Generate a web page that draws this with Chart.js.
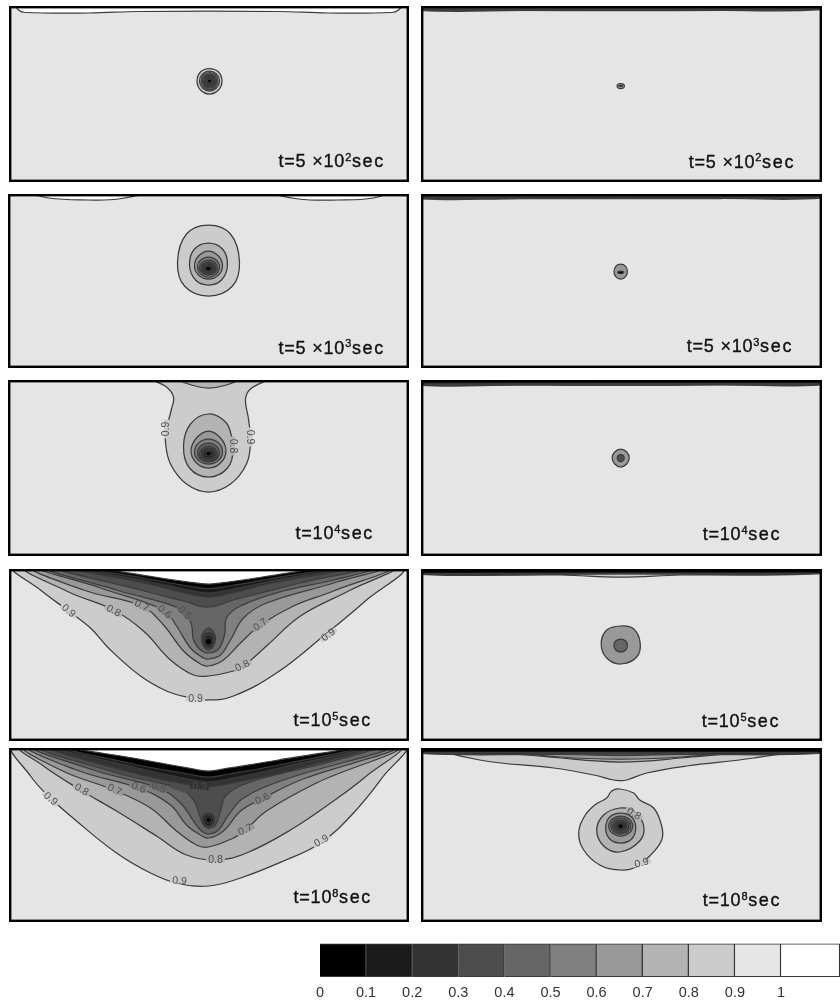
<!DOCTYPE html>
<html>
<head>
<meta charset="utf-8">
<script src="https://cdn.jsdelivr.net/npm/chart.js@4"></script>
<style>
  html, body { margin: 0; padding: 0; background: #fff; }
  #page { position: relative; width: 840px; height: 1002px; overflow: hidden; }
  canvas { position: absolute; filter: blur(0.45px); }
</style>
</head>
<body>
<div id="page"></div>
<script>
//*************DATA: each band is [contour level, [[x offset, depth], ...]] */

const bandsLeft500 = [
  [0.9, [[1,62.5],[10,66],[13.5,75],[10,84],[1,88],[-8,84],[-11.5,75],[-8,66],[1,62.5]]],
  [0.8, [[1,65],[8,68],[11,75],[8,82],[1,85],[-6,82],[-9,75],[-6,68],[1,65]]],
  [0.7, [[1,66.5],[9.5,75],[1,83.5],[-7.5,75],[1,66.5]]],
  [0.6, [[1,68],[8,75],[1,82],[-6,75],[1,68]]],
  [0.5, [[1,69],[7,75],[1,81],[-5,75],[1,69]]],
  [0.4, [[1,70],[6,75],[1,80],[-4,75],[1,70]]],
  [0.3, [[1,71],[5,75],[1,79],[-3,75],[1,71]]],
  [0.2, [[1,72],[4,75],[1,78],[-2,75],[1,72]]],
  [0.1, [[1,73],[3,75],[1,77],[-1,75],[1,73]]],
  [1, [[-192,-2],[-190,4],[-183,6.5],[-120,7],[-70,5.5],[0,5],[70,5.5],[120,7],[183,6.5],[190,4],[193,-2],[-192,-2]]]
];
const bandsLeft5000 = [
  [0.9, [[0,31],[22,40],[31,68],[24,92],[0,102],[-24,92],[-31,68],[-22,40],[0,31]]],
  [0.8, [[0,49],[14,55],[19,71],[13,86],[0,91],[-13,86],[-19,71],[-14,55],[0,49]]],
  [0.7, [[0,57],[10,62],[14,72],[10,81],[0,85],[-10,81],[-14,72],[-10,62],[0,57]]],
  [0.6, [[0,63],[11,73],[0,83],[-11,73],[0,63]]],
  [0.5, [[0,66],[9,73.5],[0,81],[-9,73.5],[0,66]]],
  [0.4, [[0,68],[7.5,74],[0,80],[-7.5,74],[0,68]]],
  [0.3, [[0,69.5],[6,74],[0,79],[-6,74],[0,69.5]]],
  [0.2, [[0,71],[4.5,74.5],[0,78],[-4.5,74.5],[0,71]]],
  [0.1, [[0,72],[3,74.5],[0,77],[-3,74.5],[0,72]]],
  [1, [[-178,-2],[-160,4],[-120,6],[-90,5],[-63,-2],[-178,-2]]],
  [1, [[62,-2],[90,5],[130,6],[165,4],[180,-2],[62,-2]]]
];
const bandsLeft1e4 = [
  [0.9, [[-58,-2],[-42,7],[-35,17],[-37,29],[-42,49],[-43,62],[-38,84],[-22,104],[0,112],[22,104],[38,84],[42,62],[40,39],[37,19],[42,9],[60,-2],[-58,-2]]],
  [0.8, [[-32,-2],[-17,5],[0,8],[18,5],[32,-2],[-32,-2]]],
  [0.8, [[0,34],[17,42],[23,56],[25,68],[19,88],[0,97],[-19,88],[-25,66],[-18,44],[0,34]]],
  [0.7, [[0,51],[12,58],[17.5,71],[12,83],[0,88],[-12,83],[-17.5,71],[-12,58],[0,51]]],
  [0.6, [[0,59],[14,72],[0,84],[-14,72],[0,59]]],
  [0.5, [[0,63],[11,73],[0,82],[-11,73],[0,63]]],
  [0.4, [[0,66],[9,74],[0,81],[-9,74],[0,66]]],
  [0.3, [[0,68],[7,74],[0,79.5],[-7,74],[0,68]]],
  [0.2, [[0,70],[5,74],[0,78],[-5,74],[0,70]]],
  [0.1, [[0,71],[3,74],[0,76],[-3,74],[0,71]]]
];
const bandsLeft1e5 = [
  [0.9, [[-194,-2],[-168,21],[-140,42],[-118,59],[-98,81],[-68,107],[-42,122],[-22,128],[0,131],[25,127],[68,104],[115,67],[158,31],[192,-1],[-194,-2]]],
  [0.8, [[-182,-2],[-142,22],[-95,41],[-65,62],[-38,91],[-15,106],[0,107],[25,102],[35,97],[58,77],[92,47],[142,21],[184,-2],[-182,-2]]],
  [0.7, [[-174,-2],[-125,21],[-67,37],[-45,56],[-25,82],[-8,95],[0,97],[15,91],[32,74],[52,56],[85,37],[125,22],[180,-2],[-174,-2]]],
  [0.6, [[-167,-2],[-108,19],[-45,41],[-32,57],[-18,79],[-5,89],[0,90],[12,86],[22,71],[35,49],[58,34],[125,14],[174,-2],[-167,-2]]],
  [0.5, [[-160,-2],[-92,21],[-25,41],[-17,56],[-15,71],[-8,81],[0,84],[10,80],[16,66],[18,49],[32,37],[75,22],[125,11],[167,-2],[-160,-2]]],
  [0.4, [[-148,-2],[-68,21],[-25,32],[0,38],[25,31],[92,14],[156,-2],[-148,-2]]],
  [0.4, [[0,59],[5,63],[7,69],[5,77],[0,81],[-5,77],[-7,69],[-5,63],[0,59]]],
  [0.3, [[0,63],[6,71],[0,79],[-6,71],[0,63]]],
  [0.2, [[0,66],[5,72],[0,78],[-5,72],[0,66]]],
  [0.1, [[0,69],[3.5,72.5],[0,76],[-3.5,72.5],[0,69]]],
  [0.3, [[-136,-2],[-60,15],[-20,25],[0,28],[20,25],[60,15],[140,-2],[-136,-2]]],
  [0.2, [[-128,-2],[-60,12.5],[-20,21],[0,24],[20,21],[60,12.5],[132,-2],[-128,-2]]],
  [0.1, [[-120,-2],[-60,10],[-20,17],[0,19.5],[20,17],[60,10],[124,-2],[-120,-2]]],
  [1, [[-108,-2],[-60,7],[-20,13],[0,15],[20,13],[60,7],[108,-2],[-108,-2]]]
];
const bandsLeft1e8 = [
  [0.9, [[-194,-2],[-178,28],[-158,50],[-132,73],[-92,105],[-58,125],[-32,135],[0,138],[32,130],[75,113],[112,95],[145,65],[175,28],[195,-2],[-194,-2]]],
  [0.8, [[-188,-2],[-165,18],[-128,42],[-92,63],[-52,88],[-22,107],[8,112],[38,105],[82,82],[125,53],[158,28],[190,-2],[-188,-2]]],
  [0.7, [[-183,-2],[-148,22],[-95,42],[-58,60],[-32,83],[-12,97],[0,99],[25,90],[37,82],[58,63],[108,35],[187,-2],[-183,-2]]],
  [0.6, [[-178,-2],[-132,22],[-70,40],[-38,57],[-22,77],[-8,87],[0,90],[15,83],[32,63],[53,51],[92,32],[184,-2],[-178,-2]]],
  [0.5, [[-173,-2],[-115,22],[-50,40],[-28,55],[-15,73],[-7,83],[0,86],[10,82],[20,67],[35,50],[75,32],[177,-2],[-173,-2]]],
  [0.4, [[-166,-2],[-92,25],[-30,40],[-15,52],[-9,67],[-5,77],[0,80],[7,77],[12,63],[18,47],[45,33],[125,13],[167,-2],[-166,-2]]],
  [0.3, [[0,65],[6,71],[0,79],[-6,71],[0,65]]],
  [0.2, [[0,67],[5,72],[0,78],[-5,72],[0,67]]],
  [0.1, [[0,69],[3,72],[0,75],[-3,72],[0,69]]],
  [0.3, [[-156,-2],[-75,25],[-8,39],[0,39],[25,35],[92,20],[157,-2],[-156,-2]]],
  [0.2, [[-150,-2],[-75,19],[-20,31],[0,34],[20,31],[75,19],[153,-2],[-150,-2]]],
  [0.1, [[-144,-2],[-75,16],[-20,26],[0,29],[20,26],[75,16],[149,-2],[-144,-2]]],
  [1, [[-138,-2],[-70,11],[-20,20],[0,23],[20,20],[70,12],[143,-2],[-138,-2]]]
];

const bandsRight500 = [
  [0.9, [[-205,-3],[-205,4],[-100,4.5],[0,4.5],[100,4.5],[205,3.5],[205,-3],[-205,-3]]],
  [0.4, [[-205,-3],[-205,3.5],[0,3.5],[205,3],[205,-3],[-205,-3]]],
  [0.8, [[0,77.5],[3.7,80],[0,82.5],[-3.7,80],[0,77.5]]],
  [0.5, [[0,79.3],[2,80],[0,80.7],[-2,80],[0,79.3]]]
];
const bandsRight5000 = [
  [0.9, [[-205,-3],[-205,4.5],[-100,4.5],[0,4.5],[100,4.5],[205,4],[205,-3],[-205,-3]]],
  [0.3, [[-205,-3],[-205,3.5],[0,3.5],[205,3],[205,-3],[-205,-3]]],
  [0.7, [[0,70],[6.7,77.5],[0,85],[-6.7,77.5],[0,70]]],
  [0.1, [[0,77],[3,78.3],[0,79.6],[-3,78.3],[0,77]]]
];
const bandsRight1e4 = [
  [0.9, [[-205,-3],[-205,5],[-100,5],[0,5.5],[100,5],[205,4.5],[205,-3],[-205,-3]]],
  [0.2, [[-205,-3],[-205,4],[0,4],[205,3.5],[205,-3],[-205,-3]]],
  [0.7, [[0,69],[6,72],[8.5,78],[6,84],[0,87],[-6,84],[-8.5,78],[-6,72],[0,69]]],
  [0.4, [[0,74.5],[3.5,78],[0,81.5],[-3.5,78],[0,74.5]]]
];
const bandsRight1e5 = [
  [0.9, [[-205,-3],[-205,5],[-60,6],[0,8],[60,6],[205,4.5],[205,-3],[-205,-3]]],
  [0.1, [[-205,-3],[-205,4.5],[0,4.8],[205,4],[205,-3],[-205,-3]]],
  [0.7, [[0,57],[13,60],[19.5,74],[16,88],[0,95],[-14,89],[-19.5,75],[-14,61],[0,57]]],
  [0.5, [[0,70],[5,72],[6.7,76.5],[5,81],[0,83],[-5,81],[-6.7,76.5],[-5,72],[0,70]]]
];
const bandsRight1e8 = [
  [0.9, [[-188,-2],[-141,12],[-67,20],[-27,27],[-7,32],[-1,32.5],[6,32],[26,25],[66,18],[133,10],[195,-2],[-188,-2]]],
  [0.8, [[-170,-2],[-60,10],[0,14],[60,10],[175,-2],[-170,-2]]],
  [0.7, [[-170,-2],[-60,9],[0,11],[60,9],[175,-2],[-170,-2]]],
  [0.4, [[-205,-3],[-205,5],[-60,6.5],[0,7.5],[60,6.5],[205,5],[205,-3],[-205,-3]]],
  [0.1, [[-205,-3],[-205,4.5],[0,5],[205,4.5],[205,-3],[-205,-3]]],
  [0.9, [[-1,41],[13,45],[19,52],[33,60],[41,78],[41,92],[29,108],[13,120],[-1,122],[-21,117],[-37,102],[-42,85],[-36,68],[-26,57],[-14,50],[-9,43],[-1,41]]],
  [0.8, [[-1,60],[13,63],[23,78],[19,93],[-1,104],[-17,98],[-24,82],[-17,67],[-1,60]]],
  [0.7, [[0,65],[11,69],[15,80],[11,91],[0,95],[-11,91],[-15,80],[-11,69],[0,65]]],
  [0.6, [[0,68],[12,78],[0,88],[-12,78],[0,68]]],
  [0.5, [[0,70],[10,78],[0,86],[-10,78],[0,70]]],
  [0.4, [[0,72],[8,78],[0,85],[-8,78],[0,72]]],
  [0.3, [[0,73],[6,78],[0,83],[-6,78],[0,73]]],
  [0.2, [[0,74],[4.5,78],[0,82],[-4.5,78],[0,74]]],
  [0.1, [[0,75.5],[3,78],[0,81],[-3,78],[0,75.5]]]
];

// contour labels: [text, x offset, depth, rotation in degrees, level of the band under it]
const labelsLeft1e4 = [
  ['0.9', -42, 49, -90, 0.9], ['0.9', 41.5, 57, 90, 0.9], ['0.8', 24, 66, 90, 0.8]
];
const labelsLeft1e5 = [
  ['0.9', -140, 42, 38, 0.9], ['0.8', -95, 42, 28, 0.8], ['0.7', -67, 37, 28, 0.7],
  ['0.6', -44, 43, 40, 0.6], ['0.5', -24, 44, 45, 0.5], ['0.7', 52, 56, -35, 0.7],
  ['0.9', 120, 66, -38, 0.9], ['0.8', 34, 97, -25, 0.8], ['0.9', -13, 130, 0, 0.9]
];
const labelsLeft1e8 = [
  ['0.9', -158, 51, 40, 0.9], ['0.8', -127, 42, 30, 0.8], ['0.7', -94, 42, 25, 0.7],
  ['0.6', -70, 40, 20, 0.6], ['0.5', -50, 40, 20, 0.5], ['0.4', -30, 40, 20, 0.4],
  ['0.3', -9, 39, 5, 0.3], ['0.6', 54, 51, -25, 0.6], ['0.7', 37, 82, -25, 0.7],
  ['0.9', 113, 93, -30, 0.9], ['0.8', 7, 112, 0, 0.8], ['0.9', -29, 133, 5, 0.9]
];
const labelsRight1e8 = [
  ['0.8', 13, 66, 30, 0.8], ['0.9', 21, 115, -15, 0.9]
];

const timeText = ['t=5 ×10', 't=5 ×10', 't=10', 't=10', 't=10'];
const timeExp = ['2', '3', '4', '5', '8'];

const colorbarTicks = [0, 0.1, 0.2, 0.3, 0.4, 0.5, 0.6, 0.7, 0.8, 0.9, 1];
const colorbarBands = [0.1, 0.1, 0.1, 0.1, 0.1, 0.1, 0.1, 0.1, 0.1, 0.1, 0.128];
const colorbarFills = ['#000000','#1a1a1a','#333333','#4d4d4d','#666666','#808080','#999999','#b3b3b3','#cccccc','#e5e5e5','#ffffff'];

const levelFill = { 0.1:'#000000', 0.2:'#1a1a1a', 0.3:'#333333', 0.4:'#4d4d4d', 0.5:'#666666', 0.6:'#808080', 0.7:'#999999', 0.8:'#b3b3b3', 0.9:'#cccccc', 1:'#ffffff' };

//*************PANEL LAYOUT */
const panels = [
  { id:'a1', left:9, top:6, w:400, h:176, cx:199.5, bands:bandsLeft500, labels:[], t:0, tx:70, ty:161 },
  { id:'a2', left:8, top:194, w:401, h:174, cx:200.5, bands:bandsLeft5000, labels:[], t:1, tx:70, ty:159.5 },
  { id:'a3', left:8, top:380, w:401, h:176, cx:200.5, bands:bandsLeft1e4, labels:labelsLeft1e4, t:2, tx:87, ty:159 },
  { id:'a4', left:9, top:569, w:400, h:172, cx:199.5, bands:bandsLeft1e5, labels:labelsLeft1e5, t:3, tx:85, ty:157 },
  { id:'a5', left:9, top:748, w:400, h:174, cx:199.5, bands:bandsLeft1e8, labels:labelsLeft1e8, t:4, tx:85, ty:155 },
  { id:'b1', left:421, top:6, w:401, h:176, cx:199.7, bands:bandsRight500, labels:[], t:0, tx:68, ty:161.5 },
  { id:'b2', left:421, top:194, w:401, h:174, cx:199.7, bands:bandsRight5000, labels:[], t:1, tx:66, ty:158 },
  { id:'b3', left:421, top:380, w:401, h:176, cx:199.7, bands:bandsRight1e4, labels:[], t:2, tx:82, ty:160 },
  { id:'b4', left:421, top:569, w:401, h:172, cx:199.7, bands:bandsRight1e5, labels:[], t:3, tx:81, ty:158 },
  { id:'b5', left:421, top:748, w:401, h:174, cx:199.7, bands:bandsRight1e8, labels:labelsRight1e8, t:4, tx:82, ty:158 }
];

const page = document.getElementById('page');

function addCanvas(left, top, w, h) {
  var c = document.createElement('canvas');
  c.width = w; c.height = h;
  c.style.left = left + 'px';
  c.style.top = top + 'px';
  c.style.width = w + 'px';
  c.style.height = h + 'px';
  page.appendChild(c);
  return c;
}

// contours are closed, same flag the radar controller sets on its line
const closeLines = {
  id: 'closeLines',
  afterDatasetsUpdate(chart) {
    chart.getSortedVisibleDatasetMetas().forEach(function (m) {
      m.dataset._loop = true;
      m.dataset._fullLoop = true;
    });
  }
};

// grey background behind the contours
const panelBack = {
  id: 'panelBack',
  beforeDatasetsDraw(chart) {
    var a = chart.chartArea, ctx = chart.ctx;
    ctx.save();
    ctx.fillStyle = '#e5e5e5';
    ctx.fillRect(a.left, a.top, a.right - a.left, a.bottom - a.top);
    ctx.restore();
  }
};

function boldText(ctx, s, x, y) {
  ctx.fillText(s, x, y);
  ctx.strokeText(s, x, y);
}

// contour labels, frame and the time label
const panelText = {
  id: 'panelText',
  afterDatasetsDraw(chart, args, opts) {
    var ctx = chart.ctx, sx = chart.scales.x, sy = chart.scales.y, a = chart.chartArea;
    ctx.save();
    opts.labels.forEach(function (l) {
      ctx.save();
      ctx.translate(sx.getPixelForValue(l[1]), sy.getPixelForValue(l[2]));
      ctx.rotate(l[3] * Math.PI / 180);
      ctx.fillStyle = levelFill[l[4]];
      ctx.fillRect(-9.5, -2.5, 19, 5);
      ctx.fillStyle = '#505050';
      ctx.font = '10.5px "Liberation Sans"';
      ctx.textAlign = 'center';
      ctx.textBaseline = 'middle';
      ctx.fillText(l[0], 0, 0);
      ctx.restore();
    });
    ctx.strokeStyle = '#000';
    ctx.lineWidth = 2.4;
    ctx.strokeRect(a.left + 1.2, a.top + 1.2, a.right - a.left - 2.4, a.bottom - a.top - 2.4);

    var x = sx.getPixelForValue(opts.tx), y = sy.getPixelForValue(opts.ty);
    ctx.fillStyle = '#111';
    ctx.strokeStyle = '#111';
    ctx.lineWidth = 0.35;
    ctx.textAlign = 'left';
    ctx.textBaseline = 'alphabetic';
    ctx.font = '18px "Liberation Sans"';
    ctx.letterSpacing = '0.8px';
    boldText(ctx, opts.text, x, y);
    x += ctx.measureText(opts.text).width;
    ctx.font = '11px "Liberation Sans"';
    ctx.letterSpacing = '0.6px';
    boldText(ctx, opts.exp, x, y - 6.5);
    x += ctx.measureText(opts.exp).width;
    ctx.font = '18px "Liberation Sans"';
    ctx.letterSpacing = '1.7px';
    boldText(ctx, 'sec', x, y);
    ctx.restore();
  }
};

function makePanel(p) {
  var datasets = p.bands.slice().reverse().map(function (b) {
    var pts = b[1].slice(0, -1); // last point repeats the first
    return {
      data: pts.map(function (pt) { return { x: pt[0], y: pt[1] }; }),
      showLine: true,
      fill: 'shape',
      backgroundColor: levelFill[b[0]],
      borderColor: '#3c3c3c',
      borderWidth: 1.25,
      pointRadius: 0,
      tension: pts.length <= 4 ? 0.55 : 0.4
    };
  });
  new Chart(addCanvas(p.left, p.top, p.w, p.h), {
    type: 'scatter',
    data: { datasets: datasets },
    plugins: [closeLines, panelBack, panelText],
    options: {
      responsive: false,
      animation: false,
      events: [],
      layout: { padding: 0 },
      scales: {
        x: { type: 'linear', display: false, min: -p.cx, max: p.w - p.cx },
        y: { type: 'linear', display: false, min: 0, max: p.h, reverse: true }
      },
      plugins: {
        legend: { display: false },
        tooltip: { enabled: false },
        panelText: { labels: p.labels, tx: p.tx, ty: p.ty, text: timeText[p.t], exp: timeExp[p.t] }
      }
    }
  });
}
panels.forEach(makePanel);

//*************COLOUR BAR */
new Chart(addCanvas(300, 930, 540, 72), {
  type: 'bar',
  data: {
    labels: [''],
    datasets: colorbarBands.map(function (v, i) {
      return {
        data: [v],
        backgroundColor: colorbarFills[i],
        borderColor: '#383838',
        borderWidth: 1.4,
        barPercentage: 1,
        categoryPercentage: 1
      };
    })
  },
  options: {
    indexAxis: 'y',
    responsive: false,
    animation: false,
    events: [],
    layout: { padding: { left: 20, right: 0, top: 13.5, bottom: 0 } },
    scales: {
      x: {
        type: 'linear',
        stacked: true,
        min: 0,
        max: 1.128,
        afterBuildTicks(s) { s.ticks = colorbarTicks.map(function (v) { return { value: v }; }); },
        afterFit(s) { s.height = 25; },
        grid: { display: false, drawTicks: false },
        border: { display: false },
        ticks: {
          autoSkip: false,
          maxRotation: 0,
          padding: 7,
          color: '#333',
          font: { family: '"Liberation Sans"', size: 14.5 },
          callback: function (v) { return String(v); }
        }
      },
      y: { stacked: true, display: false }
    },
    plugins: { legend: { display: false }, tooltip: { enabled: false } }
  }
});
</script>
</body>
</html>
